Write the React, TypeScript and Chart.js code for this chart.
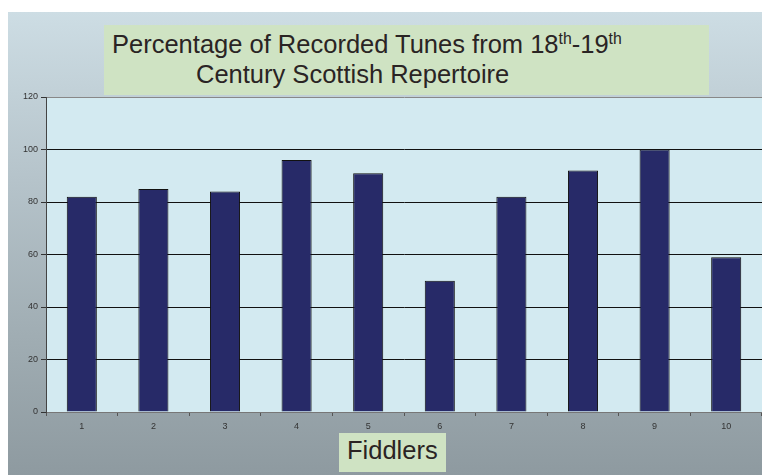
import React, { useEffect, useRef } from "react";
import { Chart, registerables } from "chart.js";

Chart.register(...registerables);

const categories = ["1", "2", "3", "4", "5", "6", "7", "8", "9", "10"];
const percentages = [82, 85, 84, 96, 91, 50, 82, 92, 100, 59];
const yTicks = [0, 20, 40, 60, 80, 100, 120];

const plotBg = {
  id: "plotBg",
  beforeDraw(chart: any) {
    const { ctx, chartArea } = chart;
    ctx.save();
    ctx.fillStyle = "#d3eaf1";
    ctx.fillRect(chartArea.left, chartArea.top, chartArea.right - chartArea.left, chartArea.bottom - chartArea.top);
    ctx.restore();
  },
};

export default function App() {
  const ref = useRef<HTMLCanvasElement>(null);

  useEffect(() => {
    if (!ref.current) return;
    const chart = new Chart(ref.current, {
      type: "bar",
      data: {
        labels: categories,
        datasets: [
          {
            data: percentages,
            backgroundColor: "#272a68",
            borderColor: "#111111",
            borderWidth: 1,
            borderSkipped: "bottom",
            barPercentage: 0.42,
            categoryPercentage: 1,
          },
        ],
      },
      options: {
        animation: false,
        responsive: false,
        maintainAspectRatio: false,
        layout: { padding: { top: 85, left: 0, right: 0, bottom: 0 } },
        plugins: { legend: { display: false }, tooltip: { enabled: false }, title: { display: false } },
        scales: {
          x: {
            grid: {
              offset: true,
              drawOnChartArea: false,
              drawTicks: true,
              tickLength: 4,
              color: "#555555",
            },
            border: { color: "#777777", width: 1 },
            ticks: {
              color: "#333333",
              font: { family: "Liberation Sans, Arial, sans-serif", size: 9 },
              padding: 5,
              maxRotation: 0,
            },
            afterFit: (scale: any) => {
              scale.height = 63;
            },
          },
          y: {
            min: 0,
            max: 120,
            afterBuildTicks: (scale: any) => {
              scale.ticks = yTicks.map((v) => ({ value: v }));
            },
            grid: {
              color: (c: any) => (c.tick && (c.tick.value === 120 || c.tick.value === 0) ? "#888888" : "#111111"),
              tickColor: "#333333",
              tickLength: 5,
              lineWidth: 1,
            },
            border: { color: "#444444", width: 1 },
            ticks: {
              color: "#333333",
              font: { family: "Liberation Sans, Arial, sans-serif", size: 9 },
              padding: 3,
            },
            afterFit: (scale: any) => {
              scale.width = 38;
            },
          },
        },
      },
      plugins: [plotBg],
    });
    return () => chart.destroy();
  }, []);

  const textColor = "#2a2424";
  const font = "Liberation Sans, Arial, sans-serif";
  const sup: React.CSSProperties = { fontSize: "0.62em", position: "relative", top: "-0.55em", lineHeight: 0 };
  const line: React.CSSProperties = { position: "absolute", fontFamily: font, fontSize: 25.5, lineHeight: "25px", color: textColor, whiteSpace: "nowrap" };

  return (
    <div
      style={{
        position: "absolute",
        left: 8,
        top: 12,
        width: 754,
        height: 463,
        overflow: "hidden",
        background: "linear-gradient(180deg, #cddde4 0%, #b6c4cb 35%, #a0adb3 70%, #8e9aa0 100%)",
      }}
    >
      <div style={{ position: "absolute", left: 96, top: 13, width: 605, height: 70, background: "#cfe3c3" }} />
      <div style={{ ...line, left: 104, top: 20 }}>
        Percentage of Recorded Tunes from 18<span style={sup}>th</span>-19<span style={sup}>th</span>
      </div>
      <div style={{ ...line, left: 188, top: 50 }}>Century Scottish Repertoire</div>
      <canvas ref={ref} width={754} height={463} style={{ position: "absolute", left: 0, top: 0 }} />
      <div style={{ position: "absolute", left: 331, top: 421, width: 107, height: 39, background: "#cfe3c3" }} />
      <div style={{ ...line, left: 339, top: 426 }}>Fiddlers</div>
    </div>
  );
}
